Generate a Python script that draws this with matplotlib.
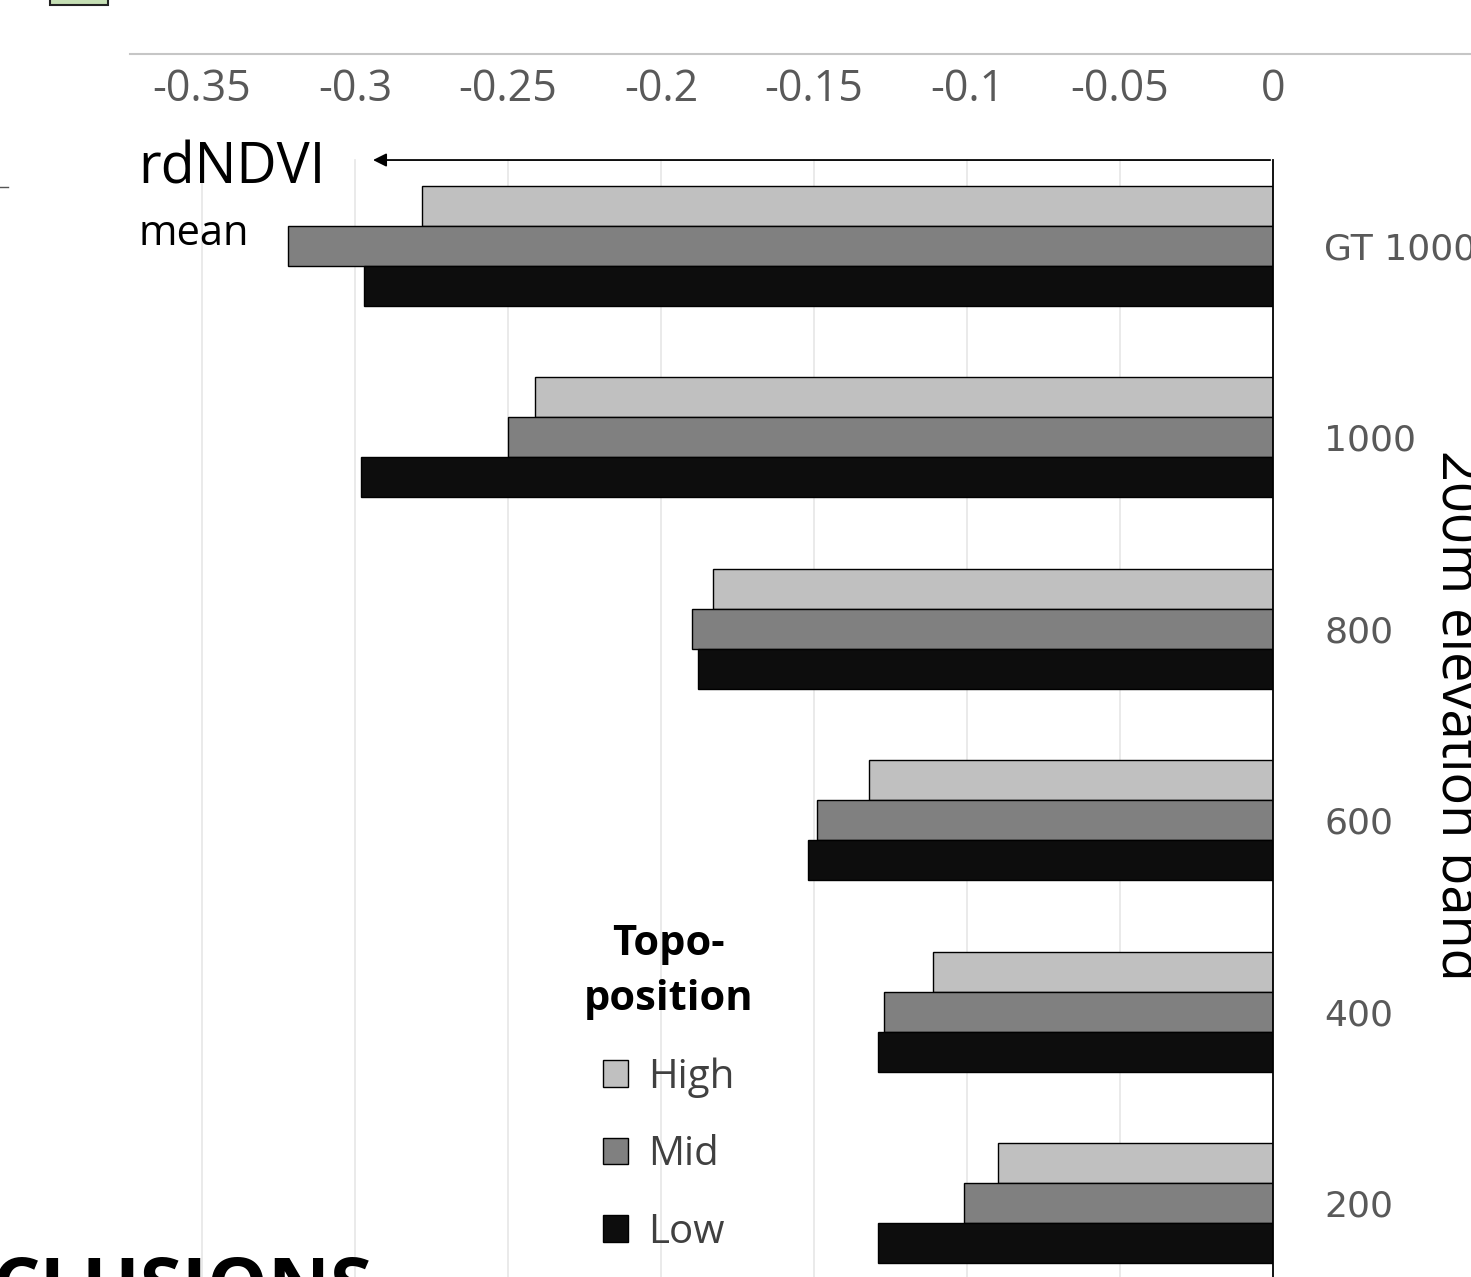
import numpy as np
import matplotlib
matplotlib.use("Agg")
import matplotlib.pyplot as plt
from matplotlib.lines import Line2D
from matplotlib.patches import Rectangle

# Data
bands = ["GT 1000", "1000", "800", "600", "400", "200"]
high = [-0.278, -0.241, -0.183, -0.132, -0.111, -0.090]
mid = [-0.322, -0.250, -0.190, -0.149, -0.127, -0.101]
low = [-0.297, -0.298, -0.188, -0.152, -0.129, -0.129]
xticks = [-0.35, -0.3, -0.25, -0.2, -0.15, -0.1, -0.05, 0]
xtick_labels = ["-0.35", "-0.3", "-0.25", "-0.2", "-0.15", "-0.1", "-0.05", "0"]

plt.rcParams["font.family"] = ["Open Sans", "DejaVu Sans"]

W, H = 1471, 1277
fig = plt.figure(figsize=(W / 100, H / 100), dpi=100)
ax = fig.add_axes([130 / W, 0, (1273 - 130) / W, (H - 54) / H])

y = np.arange(len(bands))
h = 0.209
ax.barh(y - h, high, height=h, color="#c0c0c0", edgecolor="black", lw=1, label="High", zorder=3)
ax.barh(y, mid, height=h, color="#808080", edgecolor="black", lw=1, label="Mid", zorder=3)
ax.barh(y + h, low, height=h, color="#0d0d0d", edgecolor="black", lw=1, label="Low", zorder=3)

ax.set_xlim(-0.3735, 0)
ax.set_ylim(5.387, -1.003)

# faint gridlines + zero axis line
for t in xticks[:-1]:
    ax.axvline(t, ymax=0.913, color="#e6e6e6", lw=1.2, zorder=0)
ax.axvline(0, ymax=0.913, color="black", lw=1.3, zorder=4, clip_on=False)

# arrow for rdNDVI direction
ax.annotate("", xy=(-0.295, -0.449), xytext=(0, -0.449),
            arrowprops=dict(arrowstyle="-|>", color="black", lw=1.3, mutation_scale=20))

ax.set_xticks(xticks, xtick_labels)
ax.tick_params(axis="x", top=True, bottom=False, labeltop=True, labelbottom=False,
               length=0, pad=-42, labelsize=31, labelcolor="#595959")
ax.yaxis.tick_right()
ax.set_yticks(y, bands)
ax.tick_params(axis="y", length=0, pad=37, labelsize=26, labelcolor="#595959")
for lab in ax.get_yticklabels():
    lab.set_fontfamily("DejaVu Sans")
for s in ax.spines.values():
    s.set_visible(False)

fig.text(138 / W, 1 - 183 / H, "rdNDVI", va="baseline", fontsize=40)
fig.text(138 / W, 1 - 245 / H, "mean", va="baseline", fontsize=30)
fig.text(1430 / W, 1 - 715 / H, "200m elevation band", rotation=-90,
         ha="left", va="center", fontsize=39)

leg = ax.legend(title="Topo-\nposition", loc="upper left",
                bbox_to_anchor=(584 / W, 1 - 924 / H), bbox_transform=fig.transFigure,
                frameon=False, fontsize=29, borderpad=0, borderaxespad=0,
                title_fontproperties={"weight": "bold", "size": 30}, alignment="center",
                handlelength=0.64, handleheight=0.64, handletextpad=0.5,
                labelspacing=0.92, labelcolor="#404040")
leg.get_title().set_multialignment("center")
leg.get_title().set_linespacing(1.45)

# poster frame remnants
fig.add_artist(Line2D([130 / W, 1], [1 - 54 / H] * 2, color="#c6c6c6", lw=1.5))
fig.add_artist(Line2D([0, 8 / W], [1 - 187 / H] * 2, color="#555555", lw=1))
fig.add_artist(Rectangle((50 / W, 1 - 5 / H), 58 / W, 10 / H, facecolor="#c5dfb4",
                         edgecolor="#222222", lw=1.5))
fig.text(-8 / W, 1 - 1255 / H, "CLUSIONS", fontsize=55, weight="bold", va="top", ha="left")

fig.savefig("out.png", dpi=100)
